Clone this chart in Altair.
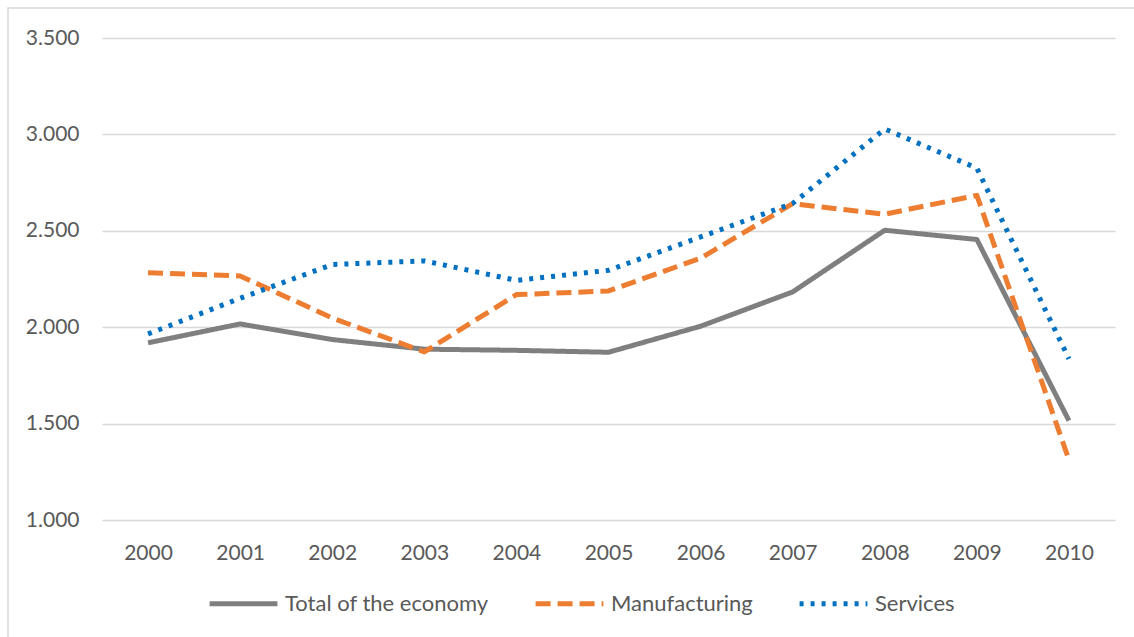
import altair as alt
import pandas as pd

years = [str(y) for y in range(2000, 2011)]
total = [1919, 2017, 1936, 1886, 1880, 1870, 2005, 2183, 2503, 2455, 1515]
manufacturing = [2282, 2266, 2048, 1872, 2169, 2188, 2358, 2641, 2586, 2684, 1312]
services = [1965, 2150, 2325, 2344, 2243, 2295, 2468, 2642, 3028, 2825, 1836]

series_names = ["Total of the economy", "Manufacturing", "Services"]
series_values = [total, manufacturing, services]
series_colors = ["#7f7f7f", "#ed7d31", "#0070c0"]
series_dashes = [[1, 0], [15, 7], [4, 7]]
y_ticks = [1000, 1500, 2000, 2500, 3000, 3500]

rows = []
for name, vals in zip(series_names, series_values):
    for yr, v in zip(years, vals):
        rows.append({"year": yr, "value": v, "series": name})
df = pd.DataFrame(rows)

W, H = 1013, 482
PAD_L, PAD_T = 102, 38

legend_kw = dict(title=None, orient="none", direction="horizontal",
                 legendX=105, legendY=529,
                 symbolType="stroke", symbolSize=4600,
                 symbolStrokeWidth=5, labelFontSize=22, labelLimit=0,
                 labelColor="#595959", labelFont="Lato",
                 columnPadding=36, labelOffset=5)

border = alt.Chart(pd.DataFrame({"a": [0]})).mark_rect(
    fill=None, stroke="#d9d9d9", strokeWidth=1.5
).encode(
    x=alt.value(8 - PAD_L), y=alt.value(8 - PAD_T),
    x2=alt.value(1200), y2=alt.value(700)
)

lines = alt.Chart(df).mark_line(strokeWidth=5, strokeCap="butt", strokeJoin="round").encode(
    x=alt.X("year:O", sort=years, scale=alt.Scale(type="point", padding=0.5),
            axis=alt.Axis(title=None, ticks=False, domain=False, grid=False, labelAngle=0,
                          labelFontSize=21, labelColor="#595959", labelPadding=22,
                          labelFont="Lato")),
    y=alt.Y("value:Q", scale=alt.Scale(domain=[1000, 3500], nice=False, zero=False),
            axis=alt.Axis(title=None, values=y_ticks, ticks=False, domain=False, grid=True,
                          gridColor="#d9d9d9", gridWidth=1.5,
                          labelFontSize=21, labelColor="#595959", labelPadding=23,
                          labelFont="Lato",
                          labelExpr="replace(format(datum.value, ','), ',', '.')")),
    color=alt.Color("series:N", scale=alt.Scale(domain=series_names, range=series_colors),
                    legend=alt.Legend(**legend_kw)),
    strokeDash=alt.StrokeDash("series:N", scale=alt.Scale(domain=series_names, range=series_dashes),
                              legend=alt.Legend(**legend_kw)),
    order=alt.Order("series:N")
)

chart = alt.layer(border, lines).properties(
    width=W, height=H,
    autosize=alt.AutoSizeParams(type="none"),
    padding={"left": PAD_L, "top": PAD_T, "right": 1134 - PAD_L - W, "bottom": 637 - PAD_T - H},
    background="white"
).configure_view(stroke=None)

chart.save("out.html", embed_options={"renderer": "svg", "actions": False})
